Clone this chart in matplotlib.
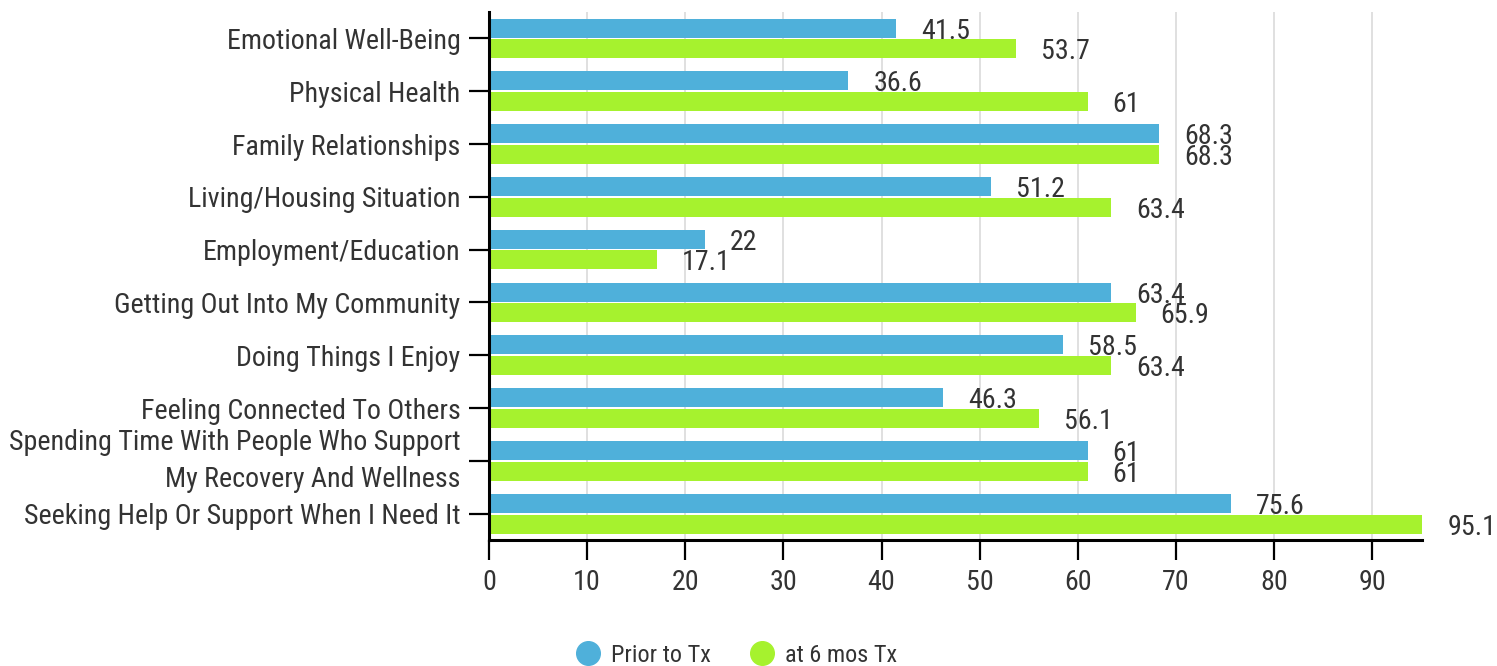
import matplotlib
matplotlib.use('Agg')
import matplotlib.pyplot as plt
import numpy as np
from matplotlib.lines import Line2D

plt.rcParams['font.family'] = ['Roboto Condensed', 'Roboto', 'DejaVu Sans']

categories = [
    'Emotional Well-Being',
    'Physical Health',
    'Family Relationships',
    'Living/Housing Situation',
    'Employment/Education',
    'Getting Out Into My Community',
    'Doing Things I Enjoy',
    'Feeling Connected To Others',
    'Spending Time With People Who Support\nMy Recovery And Wellness',
    'Seeking Help Or Support When I Need It',
]
prior = [41.5, 36.6, 68.3, 51.2, 22, 63.4, 58.5, 46.3, 61, 75.6]
six_mos = [53.7, 61, 68.3, 63.4, 17.1, 65.9, 63.4, 56.1, 61, 95.1]
series_names = ['Prior to Tx', 'at 6 mos Tx']
xticks = [0, 10, 20, 30, 40, 50, 60, 70, 80, 90]

BLUE = '#4fb0da'
GREEN = '#a6f22e'
TXT = '#333333'
FS = 20.2

fig = plt.figure(figsize=(14.97, 6.66), dpi=100)
ax = fig.add_axes([0.3267, 0.189, 0.6233, 0.793])

y = np.arange(len(categories))
h = 0.36
ax.barh(y - 0.195, prior, height=h, color=BLUE, zorder=3)
ax.barh(y + 0.195, six_mos, height=h, color=GREEN, zorder=3)

def fmt(v):
    return f'{v:g}'

# value labels sit just right of each bar end
for yi, v in zip(y - 0.195, prior):
    ax.annotate(fmt(v), xy=(v, yi), xytext=(25, -3), textcoords='offset pixels',
                ha='left', va='center', fontsize=FS, color=TXT, zorder=4)
for yi, v in zip(y + 0.195, six_mos):
    ax.annotate(fmt(v), xy=(v, yi), xytext=(25, -3), textcoords='offset pixels',
                ha='left', va='center', fontsize=FS, color=TXT, zorder=4,
                annotation_clip=False)

ax.set_ylim(len(categories) - 0.5, -0.5)
ax.set_xlim(0, max(six_mos))
ax.set_yticks(y)
ax.set_yticklabels(categories, fontsize=FS, color=TXT, linespacing=1.5)
for lbl in ax.get_yticklabels():
    if '\n' in lbl.get_text():
        lbl.set_va('center')
ax.set_xticks(xticks)
ax.set_xticklabels([str(t) for t in xticks], fontsize=FS, color=TXT)

ax.tick_params(axis='both', length=14.5, width=1.6, color='black', pad=6)
ax.tick_params(axis='x', pad=6)
for s in ['top', 'right']:
    ax.spines[s].set_visible(False)
for s in ['left', 'bottom']:
    ax.spines[s].set_linewidth(2.2)
    ax.spines[s].set_zorder(5)
ax.grid(axis='x', color='#dddddd', linewidth=1.3, zorder=0)
ax.set_axisbelow(True)

handles = [Line2D([], [], marker='o', linestyle='none', markersize=17,
                  markerfacecolor=c, markeredgecolor=c) for c in (BLUE, GREEN)]
fig.legend(handles, series_names, loc='center', bbox_to_anchor=(0.492, 0.016),
           ncol=2, frameon=False, fontsize=17.5, labelcolor=TXT,
           handlelength=1.0, handletextpad=0.45, columnspacing=1.6)

fig.savefig('out.png', dpi=100)
